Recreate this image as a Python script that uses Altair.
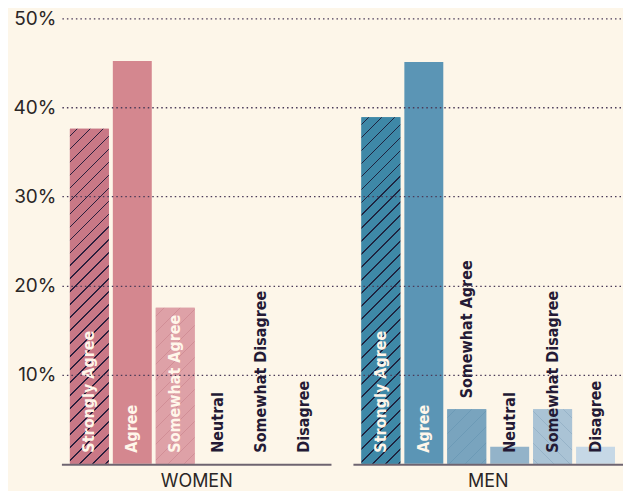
import altair as alt
import pandas as pd

responses = ["Strongly Agree", "Agree", "Somewhat Agree", "Neutral", "Somewhat Disagree", "Disagree"]
genders = ["WOMEN", "MEN"]
women_pct = [37.6, 45.2, 17.5, 0.0, 0.0, 0.0]
men_pct = [38.9, 45.1, 6.1, 1.9, 6.1, 1.9]
women_colors = ["#c97886", "#d4878f", "#dea1a7", "#e8c0c3", "#e8c0c3", "#e8c0c3"]
men_colors = ["#3e88a7", "#5b95b5", "#79a4be", "#93b3c9", "#aac3d5", "#c6d8e6"]

BG = "#fdf6e9"
DARK = "#241a35"
PLOT_W, PLOT_H = 562, 446
Y_MAX = 0.5
BAR_W = 39.0
LABEL_FONT = "'DejaVu Sans Condensed', 'Liberation Sans Narrow', 'Roboto'"

rows = []
for g, vals, cols in [("WOMEN", women_pct, women_colors), ("MEN", men_pct, men_colors)]:
    for r, v, c in zip(responses, vals, cols):
        rows.append({"gender": g, "response": r, "value": v / 100.0, "key": g + "|" + r, "col": c})
df = pd.DataFrame(rows)
keys = list(df["key"])
cols = list(df["col"])


def hatch(value, base, stripe, period, thick, back=False):
    w = BAR_W
    h = max(value / Y_MAX * PLOT_H, 1.0)
    L = w + h
    r = h / w
    s = (1 + r) / (1 + r * r)
    if back:
        x1, y1, x2, y2 = 1, 0, 1 - s, s * r
    else:
        x1, y1, x2, y2 = 0, 0, s, s * r
    stops = [alt.GradientStop(offset=0, color=base)]
    t = period / 2.0
    while t + thick < L:
        a, b = t / L, (t + thick) / L
        stops += [
            alt.GradientStop(offset=a, color=base),
            alt.GradientStop(offset=a, color=stripe),
            alt.GradientStop(offset=b, color=stripe),
            alt.GradientStop(offset=b, color=base),
        ]
        t += period
    stops.append(alt.GradientStop(offset=1, color=base))
    return alt.LinearGradient(gradient="linear", stops=stops, x1=x1, y1=y1, x2=x2, y2=y2)


x_enc = alt.X(
    "gender:N",
    sort=genders,
    scale=alt.Scale(paddingInner=22 / 292, paddingOuter=0),
    axis=alt.Axis(
        title=None, labelAngle=0, domain=False, ticks=False, labelPadding=9,
        labelFontSize=18, labelFont="Inter", labelColor="#2b2626",
    ),
)
xo_enc = alt.XOffset("response:N", sort=responses, scale=alt.Scale(paddingInner=4 / 43, paddingOuter=8 / 43))
y_enc = alt.Y(
    "value:Q",
    scale=alt.Scale(domain=[0, Y_MAX]),
    axis=alt.Axis(
        title=None, values=[0.1, 0.2, 0.3, 0.4, 0.5], format=".0%", grid=True,
        gridDash=[1.5, 3], gridColor="#4a3a58", gridWidth=1.3, domain=False, ticks=False,
        labelPadding=6, labelFontSize=19, labelFont="Inter", labelColor="#2b2626",
        minExtent=48, maxExtent=48, zindex=1,
    ),
)

base = alt.Chart(df)

bars = base.mark_bar().encode(
    x=x_enc, xOffset=xo_enc, y=y_enc,
    color=alt.Color("key:N", scale=alt.Scale(domain=keys, range=cols), legend=None),
)

hatch_specs = [
    ("WOMEN|Strongly Agree", "#2a1f3d", 13, 1.8, False),
    ("MEN|Strongly Agree", "#1f2440", 13, 1.8, False),
    ("WOMEN|Somewhat Agree", "#d18e96", 16, 1.2, False),
    ("MEN|Somewhat Agree", "#6c9ab6", 16, 1.2, False),
    ("MEN|Somewhat Disagree", "#97b3c8", 16, 1.2, True),
]
hatch_layers = []
for key, stripe, period, thick, back in hatch_specs:
    row = df[df["key"] == key].iloc[0]
    grad = hatch(row["value"], row["col"], stripe, period, thick, back)
    hatch_layers.append(
        base.transform_filter(alt.datum.key == key)
        .mark_bar(fill=grad)
        .encode(x=x_enc, xOffset=xo_enc, y=alt.Y("value:Q", title=None))
    )

baseline = alt.Chart(pd.DataFrame({"gender": genders})).mark_bar(color="#6e6470").encode(
    x=alt.X("gender:N", sort=genders),
    y=alt.YDatum(0, title=None),
    y2=alt.Y2Datum(-0.0024),
)

labels = base.transform_calculate(
    labelY="(datum.gender == 'MEN' && datum.response == 'Somewhat Agree') ? datum.value : 0"
).mark_text(
    angle=270, align="left", baseline="middle", dx=11,
    font=LABEL_FONT, fontSize=16, fontWeight="bold",
).encode(
    x=x_enc, xOffset=xo_enc,
    y=alt.Y("labelY:Q", title=None),
    text="response:N",
    color=alt.condition(alt.datum.value > 0.1, alt.value("#fff6ea"), alt.value(DARK)),
)

chart = alt.layer(bars, *hatch_layers, baseline, labels).properties(
    width=PLOT_W, height=PLOT_H, background=BG,
    padding={"left": 5, "top": 1, "right": 0, "bottom": 0},
).configure_view(stroke=None)

chart.save("out.html", embed_options={"renderer": "svg", "actions": False})
